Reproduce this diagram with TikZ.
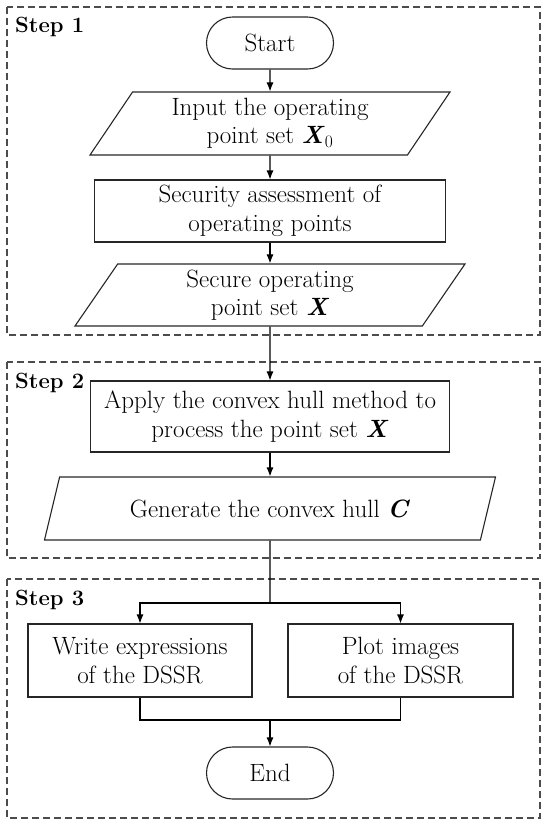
\documentclass[tikz,border=0pt]{standalone}
\usepackage{tikz}
\usetikzlibrary{arrows.meta,shapes.geometric}

\tikzset{
  stepbox/.style={draw=black!70, dash pattern=on 7pt off 4pt, line width=1.2pt},
  steplbl/.style={anchor=base west, inner sep=0pt, font=\fontsize{22}{26}\selectfont\bfseries},
  proc/.style={draw=black!85, line width=1.1pt, align=center, inner sep=0pt},
  term/.style={proc, rounded corners=26pt, minimum width=127pt, minimum height=52pt},
  data/.style={proc, trapezium, trapezium left angle=50, trapezium right angle=130,
    trapezium stretches body, minimum height=63pt},
  flow/.style={-{Latex[length=9pt,width=7pt]}, line width=1.1pt},
}
\newcommand{\bvar}[1]{\textbf{\textit{#1}}}

\begin{document}
\begin{tikzpicture}[x=1pt, y=-1pt, font=\fontsize{25}{28.5}\selectfont]
  \useasboundingbox (0,0) rectangle (550,831);
  \def\cx{270}   % main line
  % step frames
  \draw[stepbox] (7,7) rectangle (540,335);
  \draw[stepbox] (7,362) rectangle (540,558);
  \draw[stepbox] (7,579) rectangle (540,818);
  \node[steplbl] (lblA) at (15,32) {Step 1};
  \node[steplbl] (lblB) at (15,388) {Step 2};
  \node[steplbl] (lblC) at (15,605) {Step 3};
  % step 1
  \node[term] (start) at (\cx,43) {Start};
  \node[data, minimum width=360pt] (input) at (\cx,123.5) {Input the operating\\point set \bvar{X}\textsubscript{0}};
  \node[proc, minimum width=351pt, minimum height=62pt] (assess) at (\cx,211) {Security assessment of\\operating points};
  \node[data, minimum width=390pt, minimum height=62pt] (secure) at (\cx,295) {Secure operating\\point set \bvar{X}};
  % step 2
  \node[proc, minimum width=359pt, minimum height=71pt] (apply) at (\cx,416.5) {Apply the convex hull method to\\process the point set \bvar{X}};
  \node[data, minimum width=451pt] (hull) at (\cx,508.5) {Generate the convex hull \bvar{C}};
  % step 3
  \node[proc, minimum width=224pt, minimum height=73pt] (write) at (140,660.5) {Write expressions\\of the DSSR};
  \node[proc, minimum width=225pt, minimum height=73pt] (plot) at (400.5,660.5) {Plot images\\of the DSSR};
  \node[term] (end) at (\cx,773) {End};
  \coordinate (split) at (\cx,603);
  \coordinate (merge) at (\cx,720);
  % connectors
  \draw[flow] (start) -- (input);
  \draw[flow] (input) -- (assess);
  \draw[flow] (assess) -- (secure);
  \draw[flow] (secure) -- (apply);
  \draw[flow] (apply) -- (hull);
  \draw[line width=1.1pt] (hull) -- (split);
  \draw[flow] (split) -| (write);
  \draw[flow] (split) -| (plot);
  \draw[line width=1.1pt] (write) |- (merge) -| (plot);
  \draw[flow] (merge) -- (end);
\end{tikzpicture}
\end{document}
